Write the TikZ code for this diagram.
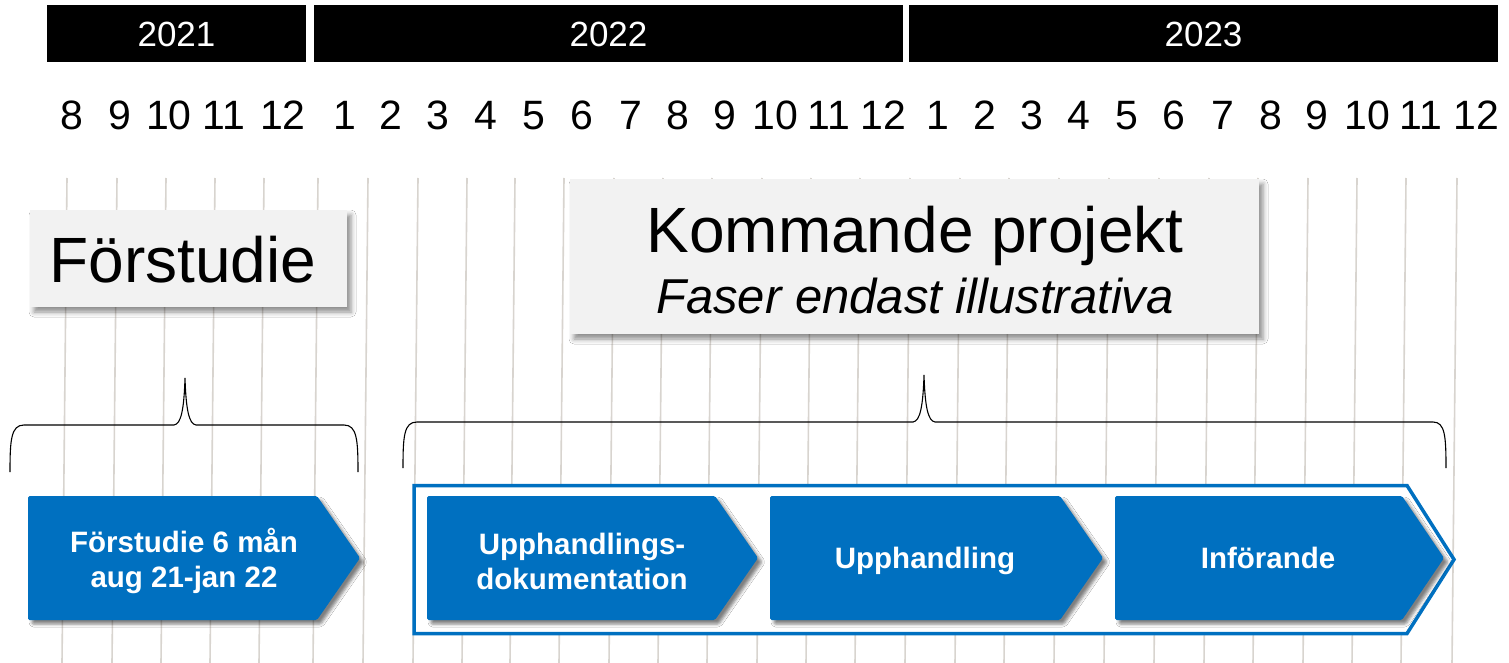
\documentclass[tikz,border=0pt]{standalone}
\usepackage{fontspec}
\setmainfont{Liberation Sans}
\usetikzlibrary{shadows.blur}
\definecolor{myblue}{HTML}{0070C0}
\definecolor{gridc}{RGB}{216,212,207}
\definecolor{boxgray}{HTML}{F2F2F2}
\begin{document}
\begin{tikzpicture}[x=1pt,y=-1pt,
  gridline/.style={gridc, line width=1.6pt},
  yearbar/.style={fill=black},
  yeartext/.style={text=white, font=\fontsize{35}{40}\selectfont, anchor=base, inner sep=0pt},
  monthtext/.style={font=\fontsize{41}{46}\selectfont, anchor=base, inner sep=0pt},
  titlebox/.style={fill=boxgray, blur shadow={shadow xshift=4pt, shadow yshift=-5pt, shadow blur radius=5pt, shadow opacity=45}},
  titletext/.style={font=\fontsize{64}{70}\selectfont, anchor=base, inner sep=0pt},
  subtext/.style={font=\fontsize{49}{54}\selectfont\itshape, anchor=base, inner sep=0pt},
  bracepath/.style={black, line width=1.1pt},
  outlinebox/.style={draw=myblue, line width=3.5pt, fill=white, line join=miter},
  chev/.style={fill=myblue, rounded corners=1.5pt, blur shadow={shadow xshift=4pt, shadow yshift=-4pt, shadow blur radius=3pt, shadow opacity=50}},
  chevtext/.style={text=white, font=\fontsize{29.5}{35}\selectfont\bfseries, align=center, inner sep=0pt},
  ]
\useasboundingbox (0,0) rectangle (1509,663);
\fill[white] (0,0) rectangle (1509,663);

% grid lines
\foreach \b [count=\i] in {62,112,161,210,259,313,363,413,462,510,559,609,658,707,757,806,855,905,955,1004,1054,1104,1154,1204,1253,1303,1352,1401,1452}
  \draw[gridline] (\b+5,178) -- (\b,663);

% year bars
\path[yearbar] (47,5) rectangle (306,62);
\path[yearbar] (314,5) rectangle (903,62);
\path[yearbar] (909,5) rectangle (1498,62);
\node[yeartext] (y2021) at (176.5,47) {2021};
\node[yeartext] (y2022) at (608.5,47) {2022};
\node[yeartext] (y2023) at (1203.5,47) {2023};

% months
\foreach \xx/\m [count=\i] in {72/8,120/9,169/10,224/11,283/12,345/1,391/2,438/3,486/4,534/5,582/6,631/7,678/8,725/9,775/10,829/11,883/12,938/1,985/2,1032/3,1079/4,1127/5,1174/6,1223/7,1271/8,1317/9,1367/10,1421/11,1476/12}
  \node[monthtext] (m\i) at (\xx,130) {\m};

% title boxes
\path[titlebox] (30,210) rectangle (347,307);
\node[titletext] (fs) at (183,282) {Förstudie};
\path[titlebox] (570,179) rectangle (1259,334);
\node[titletext] (kp) at (915,252) {Kommande projekt};
\node[subtext] (fe) at (915,313) {Faser endast illustrativa};

% braces
\draw[bracepath] (10,472) .. controls (10,440) and (11,425) .. (24,425) -- (174,425)
  .. controls (181,424) and (184,410) .. (185,378)
  .. controls (186,410) and (189,424) .. (196,425) -- (344,425)
  .. controls (357,425) and (358,440) .. (358,472);
\draw[bracepath] (403,468) .. controls (403,436) and (404,422) .. (417,422) -- (913,422)
  .. controls (920,421) and (923,407) .. (924,375)
  .. controls (925,407) and (928,421) .. (935,422) -- (1433,422)
  .. controls (1445,422) and (1446,436) .. (1446,468);

% outline of coming project
\path[outlinebox] (414,485.5) -- (1407,485.5) -- (1454,559.5) -- (1407,633.5) -- (414,633.5) -- cycle;

% chevrons
\path[chev] (28,496) -- (317,496) -- (360,558) -- (317,620) -- (28,620) -- cycle;
\path[chev] (427,496) -- (715,496) -- (758,558) -- (715,620) -- (427,620) -- cycle;
\path[chev] (770,496) -- (1060,496) -- (1103,558) -- (1060,620) -- (770,620) -- cycle;
\path[chev] (1115,496) -- (1402,496) -- (1444,558) -- (1402,620) -- (1115,620) -- cycle;

\node[chevtext] (c1) at (184,561) {Förstudie 6 mån\\aug 21-jan 22};
\node[chevtext] (c2) at (582,561) {Upphandlings-\\dokumentation};
\node[chevtext, anchor=base] (c3) at (925,568) {Upphandling};
\node[chevtext, anchor=base] (c4) at (1268,568) {Införande};
\end{tikzpicture}
\end{document}
